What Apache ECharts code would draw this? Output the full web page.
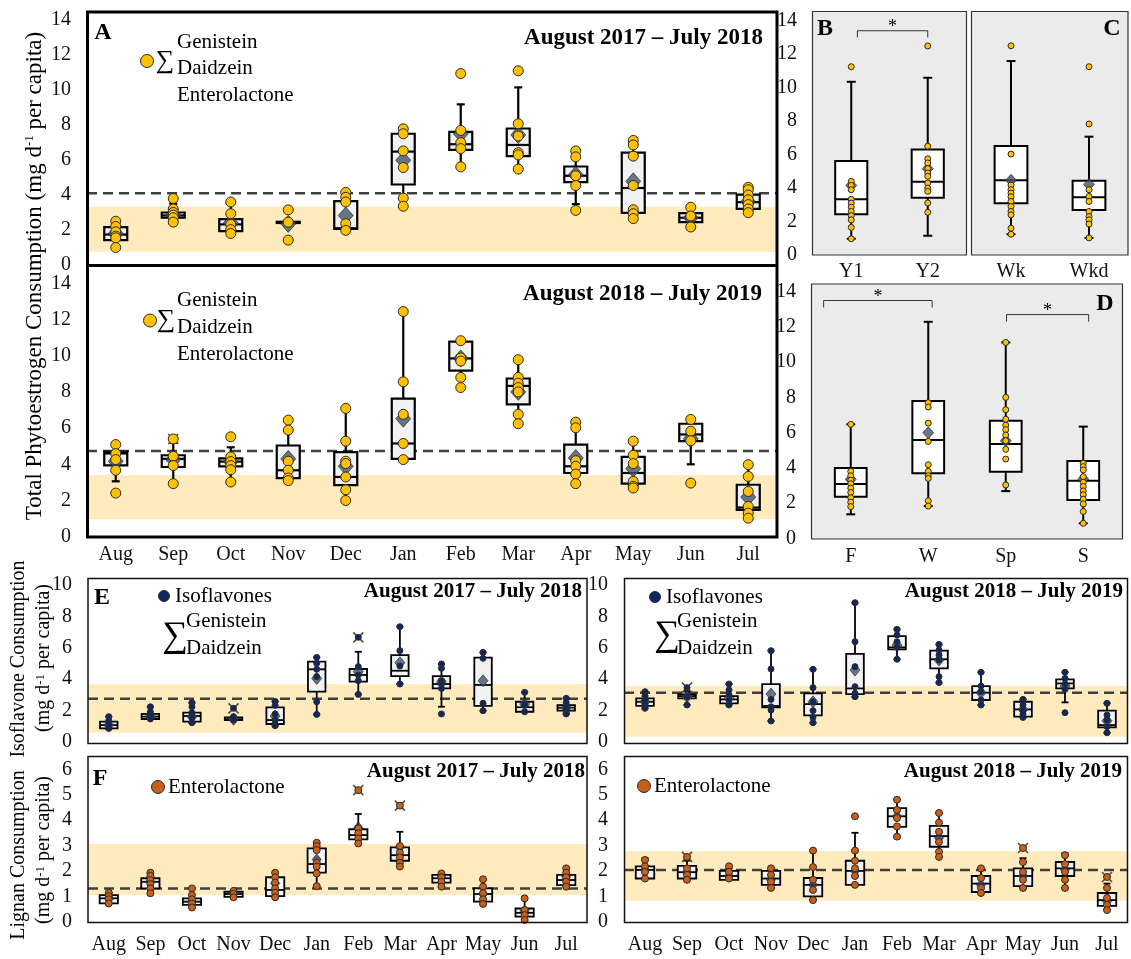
<!DOCTYPE html>
<html>
<head>
<meta charset="utf-8">
<script src="https://cdn.jsdelivr.net/npm/echarts/dist/echarts.min.js"></script>
<style>
html, body { margin: 0; padding: 0; background: #fff; }
#chart { width: 1131px; height: 959px; }
</style>
</head>
<body>
<div id="chart"></div>
<script>
// ---------- data ----------
const months = ['Aug', 'Sep', 'Oct', 'Nov', 'Dec', 'Jan', 'Feb', 'Mar', 'Apr', 'May', 'Jun', 'Jul'];
const yearCats = ['Y1', 'Y2'];
const weekCats = ['Wk', 'Wkd'];
const seasonCats = ['F', 'W', 'Sp', 'S'];

const totalTicks = [0, 14, 2];   // min, max, step
const isoTicks = [0, 10, 2];
const lignanTicks = [0, 6, 1];

// box rows: [min, Q1, median, Q3, max]
const totalY1Box = [[1.0,1.42,1.74,2.17,2.5],[2.45,2.7,2.83,3.0,3.5],[1.8,1.94,2.32,2.62,3.6],[2.4,2.4,2.43,2.47,2.47],[1.98,2.06,2.1,3.65,4.15],[3.36,4.6,6.48,7.5,7.78],[5.61,6.58,6.9,7.61,9.18],[5.48,6.22,6.86,7.8,10.15],[3.48,4.74,5.1,5.63,6.52],[2.65,2.98,4.4,6.42,7.12],[2.17,2.45,2.7,2.96,3.3],[2.99,3.21,3.59,4.02,4.44]];
const totalY1Mean = [1.8,2.85,2.4,2.35,2.83,5.99,7.5,7.43,5.16,4.78,2.7,3.62];
const totalY1Pts = [[2.5,2.2,1.9,1.65,1.55,1.0],[3.8,3.2,3.0,2.85,2.7,2.45],[3.6,2.93,2.32,2.02,1.8],[3.15,2.45,1.42],[4.15,3.87,3.6,2.36,1.98],[7.78,7.5,6.52,5.57,3.82,3.36],[10.94,7.69,6.99,6.65,5.61],[11.1,8.07,7.37,6.42,6.29,5.48],[6.52,6.18,5.1,4.54,3.12],[7.12,6.86,6.22,4.54,3.16,2.93,2.65],[3.3,2.8,2.17],[4.44,4.3,4.0,3.73,3.45,3.2,2.99]];
const totalY1Out = [];
const totalY1Band = [0.76, 3.33];
const totalY1Ref = 4.1;

const totalY2Box = [[3.06,3.94,4.6,4.69,5.09],[2.93,3.85,4.3,4.5,5.2],[3.02,3.89,4.15,4.33,4.94],[3.1,3.24,3.67,5.04,6.44],[2.0,2.85,3.3,4.67,7.09],[4.26,4.3,5.15,7.63,12.44],[8.24,9.17,9.85,10.78,10.83],[6.24,7.31,8.33,8.74,9.78],[2.93,3.52,3.89,5.09,6.33],[2.69,2.93,3.52,4.41,5.28],[4.0,5.28,5.65,6.24,6.48],[1.02,1.48,1.61,2.87,3.98]];
const totalY2Mean = [4.17,4.26,4.15,4.3,3.89,6.52,9.85,8.0,4.35,3.76,5.41,2.19];
const totalY2Pts = [[5.09,4.59,4.26,3.67,2.41],[5.4,4.44,3.93,2.93],[5.52,4.41,4.15,3.93,3.7,3.02],[6.44,5.89,4.17,3.67,3.24,3.1],[7.09,5.28,4.17,4.04,3.3,2.59,2.0],[12.44,8.56,6.76,5.15,4.26],[10.83,9.87,9.7,8.8,8.24],[9.78,8.8,8.48,8.24,8.0,6.76,6.24],[6.33,6.02,4.2,3.89,3.46,2.93],[5.28,4.5,4.04,3.06,2.78,2.69],[6.48,5.83,5.3,2.96],[3.98,3.33,2.5,1.67,1.3,1.02]];
const totalY2Out = [[1, 5.4]];
const totalY2Band = [0.96, 3.41];
const totalY2Ref = 4.73;

const yearBox = [[0.97,2.43,3.33,5.62,10.35],[1.15,3.42,4.38,6.31,10.59]];
const yearMean = [4.16,5.16];
const yearPts = [[11.25,4.4,4.16,3.9,3.33,3.1,2.86,2.6,2.35,2.1,1.65,0.97],[12.49,6.5,5.75,5.5,5.16,4.9,4.7,4.3,4.0,3.8,3.11,2.55]];
const yearSig = [[0.08, 1.0, 13.4, 13.0]];   // [from, to, bracket top, tick end]

const weekBox = [[1.24,3.09,4.46,6.51,11.59],[1.02,2.69,3.45,4.44,7.07]];
const weekMean = [4.46,4.22];
const weekPts = [[12.5,6.03,4.18,3.9,3.7,3.48,3.2,2.9,2.6,2.4,1.6,1.24],[11.25,7.83,3.9,3.5,3.2,2.6,2.3,2.1,1.85,1.02]];

const seasonBox = [[1.36,2.36,3.08,3.99,6.47],[1.83,3.69,5.58,7.79,12.29],[2.68,3.78,5.35,6.68,11.12],[0.85,2.17,3.27,4.39,6.34]];
const seasonMean = [3.35,5.99,5.54,3.36];
const seasonPts = [[6.47,3.8,3.55,3.3,3.1,2.85,2.6,2.3,2.05,1.8],[7.7,7.45,6.54,5.5,4.18,3.8,3.55,3.4,2.13,1.83],[11.12,8.0,7.3,6.76,6.42,6.17,5.86,5.54,5.05,4.5,3.03],[4.26,4.07,3.88,3.5,3.18,2.94,2.69,2.47,2.22,1.95,1.52,0.85]];
const seasonSig = [[-0.35, 1.05, 13.5, 13.1], [2.01, 3.07, 12.7, 12.3]];

const isoY1Box = [[0.81,0.85,1.06,1.28,1.6],[1.43,1.45,1.6,1.77,2.23],[1.21,1.28,1.64,1.85,2.49],[1.38,1.38,1.43,1.55,1.6],[1.02,1.13,1.38,2.19,2.57],[1.74,3.19,4.62,5.11,5.38],[3.02,3.83,4.26,4.64,5.74],[3.68,4.19,4.53,5.53,7.34],[2.23,3.4,3.68,4.19,4.96],[1.98,2.28,3.62,5.36,5.7],[1.91,1.91,2.2,2.55,3.15],[1.77,1.98,2.17,2.34,2.77]];
const isoY1Mean = [1.06,1.64,1.6,1.43,1.64,4.04,4.47,5.04,3.83,3.89,2.4,2.17];
const isoY1Pts = [[1.6,1.34,1.06,0.85],[2.23,1.91,1.64,1.45],[2.49,2.23,1.85,1.55,1.21],[2.13,1.6,1.38],[2.57,2.32,1.77,1.38,1.11,1.02],[5.38,5.0,4.62,4.15,2.55,1.74],[6.66,4.79,4.26,3.89,3.02],[7.34,5.81,4.83,3.68],[4.96,4.68,3.89,3.68,3.4,1.77],[5.7,5.32,2.45,1.98],[3.15,2.38,1.91],[2.77,2.49,2.17,1.85,1.77]];
const isoY1Out = [[3, 2.13], [6, 6.66]];
const isoY1Band = [0.57, 3.66];
const isoY1Ref = 2.74;

const isoY2Box = [[2.13,2.28,2.55,2.77,3.19],[2.34,2.77,2.91,3.02,3.2],[2.34,2.45,2.7,2.91,3.68],[1.32,2.19,2.28,3.68,5.81],[1.21,1.68,2.4,3.09,4.62],[2.87,3.04,3.4,5.6,8.87],[5.26,5.89,6.02,6.74,7.17],[3.77,4.68,5.26,5.81,6.21],[2.34,2.66,3.13,3.55,4.43],[1.55,1.6,2.06,2.55,2.7],[2.51,3.4,3.72,3.98,4.43],[0.57,0.91,1.06,1.98,2.45]];
const isoY2Mean = [2.55,2.87,2.77,3.04,2.55,4.57,6.17,5.21,3.13,2.06,3.55,1.34];
const isoY2Pts = [[3.19,2.91,2.66,2.4,2.13],[3.45,2.87,2.34],[3.68,3.3,2.98,2.66,2.34],[5.81,4.64,2.7,2.23,2.02,1.32],[4.62,3.45,2.55,1.98,1.55,1.21],[8.87,6.38,4.79,3.51,3.09,2.87],[7.17,6.81,6.38,6.02,5.26],[6.21,5.85,5.53,5.21,4.15,3.77],[4.43,3.55,3.19,2.66,2.34],[2.7,2.34,2.02,1.77,1.55],[4.43,4.04,3.68,3.34,1.85],[2.45,1.7,1.38,0.96,0.57]];
const isoY2Out = [[1, 3.45]];
const isoY2Band = [0.32, 3.55];
const isoY2Ref = 3.13;

const lignanY1Box = [[0.72,0.72,0.92,1.05,1.14],[1.12,1.31,1.57,1.71,1.93],[0.56,0.66,0.79,0.92,1.31],[0.96,0.98,1.09,1.18,1.21],[0.96,1.01,1.25,1.75,1.93],[1.4,1.93,2.27,2.89,3.11],[3.08,3.24,3.41,3.64,4.24],[2.17,2.4,2.62,2.93,3.54],[1.38,1.54,1.71,1.84,1.9],[0.7,0.79,1.09,1.31,1.67],[0.07,0.2,0.35,0.52,0.92],[1.38,1.44,1.64,1.84,2.1]];
const lignanY1Mean = [0.92,1.57,0.79,1.09,1.51,2.45,3.71,2.93,1.75,1.09,0.43,1.77];
const lignanY1Pts = [[1.14,1.01,0.88,0.72],[1.93,1.8,1.64,1.48,1.31,1.12],[1.31,1.05,0.88,0.72,0.56],[1.21,1.09,0.96],[1.93,1.75,1.54,1.31,1.14,0.96],[3.11,2.98,2.82,2.32,2.17,1.9,1.4],[5.18,3.67,3.48,3.28,3.08],[4.57,2.98,2.72,2.53,2.32,2.17],[1.9,1.75,1.57,1.38],[1.67,1.38,1.12,0.88,0.7],[0.92,0.46,0.26,0.07],[2.1,1.93,1.75,1.57,1.38]];
const lignanY1Out = [[6, 5.18], [7, 4.57]];
const lignanY1Band = [1.05, 3.06];
const lignanY1Ref = 1.31;

const lignanY2Box = [[1.7,1.7,2.04,2.18,2.5],[1.65,1.7,1.95,2.2,2.4],[1.65,1.65,1.8,2.0,2.1],[1.33,1.45,1.7,2.0,2.1],[0.85,1.0,1.45,1.72,2.8],[1.45,1.45,2.0,2.4,3.5],[3.35,3.73,4.15,4.47,4.8],[2.55,2.95,3.37,3.77,4.28],[1.13,1.17,1.5,1.8,2.1],[1.33,1.4,1.8,2.1,2.5],[1.33,1.8,2.1,2.35,2.7],[0.46,0.62,0.85,1.13,1.5]];
const lignanY2Mean = [2.04,1.95,1.8,1.65,1.45,2.0,4.15,3.3,1.45,1.8,2.05,0.8];
const lignanY2Pts = [[2.43,2.18,1.96,1.7],[2.55,2.1,1.84,1.65],[2.18,1.96,1.7],[2.1,1.84,1.57,1.33],[2.8,2.15,1.65,1.25,0.85],[4.15,2.8,2.4,2.1,1.8,1.45],[4.8,4.4,4.08,3.75,3.35],[4.28,3.9,3.54,3.14,2.75,2.55],[2.1,1.72,1.33,1.13],[2.9,2.35,1.96,1.65,1.33],[2.62,2.27,1.96,1.65,1.33],[1.76,1.33,0.94,0.66,0.46]];
const lignanY2Out = [[1, 2.55], [9, 2.9], [11, 1.76]];
const lignanY2Band = [0.82, 2.78];
const lignanY2Ref = 2.04;

// ---------- styling ----------
const SERIF = '"Liberation Serif", "Times New Roman", serif';
const GOLD = '#FFC000', NAVY = '#0F2862', ORANGE = '#C8601A';
const SLATE = '#44546A', DEEPBLUE = '#1F3A78';
const BAND = '#FFEBBE', PALE = '#F2F2F2', GREYBG = '#EBEBEB';

const panels = [
  { grid: {left: 87, top: 20, width: 690, height: 245}, cats: months, ticks: totalTicks, xLab: false, yLab: true,
    box: totalY1Box, mean: totalY1Mean, pts: totalY1Pts, out: totalY1Out, band: totalY1Band, ref: totalY1Ref,
    color: GOLD, dia: SLATE, fill: PALE, frac: 0.4, cap: 8, lw: 2.2, pt: 10, ms: [15, 17] },
  { grid: {left: 87, top: 283.3, width: 690, height: 253.4}, cats: months, ticks: totalTicks, xLab: true, xMargin: 8, yLab: true,
    box: totalY2Box, mean: totalY2Mean, pts: totalY2Pts, out: totalY2Out, band: totalY2Band, ref: totalY2Ref,
    color: GOLD, dia: SLATE, fill: PALE, frac: 0.4, cap: 8, lw: 2.2, pt: 10, ms: [15, 17] },
  { grid: {left: 813, top: 20.7, width: 153, height: 234.3}, cats: yearCats, ticks: totalTicks, xLab: true, xMargin: 7, yLab: true,
    box: yearBox, mean: yearMean, pts: yearPts, out: [], sig: yearSig,
    color: GOLD, dia: SLATE, fill: '#fff', frac: 0.42, cap: 9, lw: 2, pt: 6, ms: [11, 12] },
  { grid: {left: 972, top: 20.7, width: 156, height: 234.3}, cats: weekCats, ticks: totalTicks, xLab: true, xMargin: 7, yLab: false,
    box: weekBox, mean: weekMean, pts: weekPts, out: [],
    color: GOLD, dia: SLATE, fill: '#fff', frac: 0.42, cap: 9, lw: 2, pt: 6, ms: [11, 12] },
  { grid: {left: 812, top: 291.7, width: 310, height: 246.6}, cats: seasonCats, ticks: totalTicks, xLab: true, xMargin: 8, yLab: true,
    box: seasonBox, mean: seasonMean, pts: seasonPts, out: [], sig: seasonSig,
    color: GOLD, dia: SLATE, fill: '#fff', frac: 0.41, cap: 9, lw: 2, pt: 6, ms: [11, 12] },
  { grid: {left: 88, top: 585, width: 499, height: 156.7}, cats: months, ticks: isoTicks, xLab: false, yLab: true,
    box: isoY1Box, mean: isoY1Mean, pts: isoY1Pts, out: isoY1Out, band: isoY1Band, ref: isoY1Ref,
    color: NAVY, dia: SLATE, fill: PALE, frac: 0.42, cap: 7, lw: 1.8, pt: 6, ms: [10, 12] },
  { grid: {left: 624, top: 585, width: 504, height: 156.7}, cats: months, ticks: isoTicks, xLab: false, yLab: true,
    box: isoY2Box, mean: isoY2Mean, pts: isoY2Pts, out: isoY2Out, band: isoY2Band, ref: isoY2Ref,
    color: NAVY, dia: SLATE, fill: PALE, frac: 0.42, cap: 7, lw: 1.8, pt: 6, ms: [10, 12] },
  { grid: {left: 88, top: 769.3, width: 499, height: 152.4}, cats: months, ticks: lignanTicks, xLab: true, xMargin: 13, yLab: true,
    box: lignanY1Box, mean: lignanY1Mean, pts: lignanY1Pts, out: lignanY1Out, band: lignanY1Band, ref: lignanY1Ref,
    color: ORANGE, dia: DEEPBLUE, fill: PALE, frac: 0.44, cap: 7, lw: 1.8, pt: 7, ms: [9, 11] },
  { grid: {left: 624, top: 769.3, width: 504, height: 152.4}, cats: months, ticks: lignanTicks, xLab: true, xMargin: 13, yLab: true,
    box: lignanY2Box, mean: lignanY2Mean, pts: lignanY2Pts, out: lignanY2Out, band: lignanY2Band, ref: lignanY2Ref,
    color: ORANGE, dia: DEEPBLUE, fill: PALE, frac: 0.44, cap: 7, lw: 1.8, pt: 7, ms: [9, 11] }
];

// ---------- render helpers ----------
function seg(x1, y1, x2, y2, color, w) {
  return { type: 'line', shape: { x1, y1, x2, y2 }, style: { stroke: color, lineWidth: w } };
}

function boxRenderer(p) {
  return function (params, api) {
    const k = api.value(0);
    const x = api.coord([k, 0])[0];
    const w = api.size([1, 0])[0] * p.frac;
    const py = i => api.coord([k, api.value(i)])[1];
    const yMin = py(1), yQ1 = py(2), yMed = py(3), yQ3 = py(4), yMax = py(5);
    const kids = [];
    if (yQ3 - yMax > 0.5) {
      kids.push(seg(x, yMax, x, yQ3, '#000', p.lw));
      kids.push(seg(x - p.cap / 2, yMax, x + p.cap / 2, yMax, '#000', p.lw));
    }
    if (yMin - yQ1 > 0.5) {
      kids.push(seg(x, yQ1, x, yMin, '#000', p.lw));
      kids.push(seg(x - p.cap / 2, yMin, x + p.cap / 2, yMin, '#000', p.lw));
    }
    kids.push({ type: 'rect', shape: { x: x - w / 2, y: yQ3, width: w, height: Math.max(yQ1 - yQ3, 0.5) },
      style: { fill: p.fill, stroke: '#000', lineWidth: p.lw } });
    kids.push(seg(x - w / 2, yMed, x + w / 2, yMed, '#000', p.lw));
    return { type: 'group', children: kids };
  };
}

function bandRenderer(params, api) {
  const cs = params.coordSys;
  const lo = api.coord([0, api.value(1)])[1];
  const hi = api.coord([0, api.value(2)])[1];
  return { type: 'rect', shape: { x: cs.x, y: hi, width: cs.width, height: lo - hi }, style: { fill: BAND } };
}

function refRenderer(params, api) {
  const cs = params.coordSys;
  const y = api.coord([0, api.value(1)])[1];
  return { type: 'line', shape: { x1: cs.x, y1: y, x2: cs.x + cs.width, y2: y },
    style: { stroke: '#404040', lineWidth: 2.5, lineDash: [10, 6] } };
}

function crossRenderer(params, api) {
  const c = api.coord([api.value(0), api.value(1)]);
  const s = 5;
  return { type: 'group', children: [
    seg(c[0] - s, c[1] - s, c[0] + s, c[1] + s, '#5a4a3a', 1.6),
    seg(c[0] - s, c[1] + s, c[0] + s, c[1] - s, '#5a4a3a', 1.6)
  ] };
}

function sigRenderer(params, api) {
  const bw = api.size([1, 0])[0];
  const xAt = v => { const f = Math.floor(v); return api.coord([f, 0])[0] + (v - f) * bw; };
  const x1 = xAt(api.value(0)), x2 = xAt(api.value(1));
  const yTop = api.coord([0, api.value(2)])[1];
  const yEnd = api.coord([0, api.value(3)])[1];
  return { type: 'group', children: [
    { type: 'polyline', shape: { points: [[x1, yEnd], [x1, yTop], [x2, yTop], [x2, yEnd]] },
      style: { stroke: '#333', lineWidth: 1, fill: null } },
    { type: 'text', x: (x1 + x2) / 2, y: yTop - 3,
      style: { text: '*', font: '18px ' + SERIF, fill: '#000', align: 'center', verticalAlign: 'middle' } }
  ] };
}

// ---------- assemble option ----------
const grids = [], xAxes = [], yAxes = [], series = [];
panels.forEach((p, i) => {
  grids.push(Object.assign({ containLabel: false }, p.grid));
  xAxes.push({
    type: 'category', gridIndex: i, data: p.cats, boundaryGap: true,
    axisLine: { show: false }, axisTick: { show: false }, splitLine: { show: false },
    axisLabel: { show: p.xLab, interval: 0, margin: p.xMargin || 8, fontFamily: SERIF, fontSize: 20, color: '#111' }
  });
  yAxes.push({
    type: 'value', gridIndex: i, min: p.ticks[0], max: p.ticks[1], interval: p.ticks[2],
    axisLine: { show: false }, axisTick: { show: false }, splitLine: { show: false },
    axisLabel: { show: p.yLab, margin: 16, fontFamily: SERIF, fontSize: 20, color: '#111' }
  });
  const ax = { xAxisIndex: i, yAxisIndex: i };
  if (p.band) {
    series.push(Object.assign({ type: 'custom', z: 1, silent: true, renderItem: bandRenderer,
      data: [[0, p.band[0], p.band[1]]] }, ax));
    series.push(Object.assign({ type: 'custom', z: 1, silent: true, renderItem: refRenderer,
      data: [[0, p.ref]] }, ax));
  }
  series.push(Object.assign({ type: 'custom', z: 2, silent: true, renderItem: boxRenderer(p),
    data: p.box.map((b, k) => [k].concat(b)) }, ax));
  series.push(Object.assign({ type: 'scatter', z: 3, silent: true, symbol: 'diamond', symbolSize: p.ms,
    itemStyle: { color: p.dia, borderColor: '#222', borderWidth: 0.8 },
    data: p.mean.map((m, k) => [k, m]) }, ax));
  if (p.out.length) {
    series.push(Object.assign({ type: 'custom', z: 3, silent: true, renderItem: crossRenderer, data: p.out }, ax));
  }
  const dots = [];
  p.pts.forEach((arr, k) => arr.forEach(v => dots.push([k, v])));
  series.push(Object.assign({ type: 'scatter', z: 4, silent: true, symbol: 'circle', symbolSize: p.pt,
    itemStyle: { color: p.color, borderColor: '#2b2b2b', borderWidth: 1, opacity: 1 },
    data: dots }, ax));
  if (p.sig) {
    series.push(Object.assign({ type: 'custom', z: 5, silent: true, renderItem: sigRenderer, data: p.sig }, ax));
  }
});

// ---------- frames, letters, titles, keys ----------
function txt(x, y, text, size, opts) {
  opts = opts || {};
  return { type: 'text', x, y, z: 50, rotation: opts.rot || 0,
    style: { text, font: (opts.bold ? 'bold ' : '') + size + 'px ' + SERIF, fill: '#000',
      align: opts.align || 'left', verticalAlign: 'middle', rich: opts.rich } };
}
function frame(x, y, w, h, lw, fill, stroke, z) {
  return { type: 'rect', z: z, shape: { x, y, width: w, height: h },
    style: { fill: fill || 'none', stroke: stroke || '#000', lineWidth: lw } };
}
function dot(cx, cy, r, color) {
  return { type: 'circle', z: 50, shape: { cx, cy, r }, style: { fill: color, stroke: '#2b2b2b', lineWidth: 1 } };
}
const supRich = { s: { fontSize: 13, fontFamily: SERIF, fill: '#000', verticalAlign: 'top' } };

const gfx = [
  // panel backgrounds
  frame(812.5, 11.5, 154, 243.5, 1.2, GREYBG, '#333', -10),
  frame(971.5, 11.5, 156.5, 243.5, 1.2, GREYBG, '#333', -10),
  frame(811.5, 284, 311, 255, 1.2, GREYBG, '#333', -10),
  // outlines
  frame(87.5, 12, 689.5, 525, 3, null, '#000', 60),
  { type: 'line', z: 60, shape: { x1: 87.5, y1: 265.5, x2: 777, y2: 265.5 }, style: { stroke: '#000', lineWidth: 3 } },
  frame(88, 578.5, 499, 165, 1.5, null, '#111', 60),
  frame(88, 756.5, 499, 166, 1.5, null, '#111', 60),
  frame(624.5, 578.5, 503, 165, 1.5, null, '#111', 60),
  frame(624.5, 756.5, 503, 166, 1.5, null, '#111', 60),
  // panel letters
  txt(103, 33, 'A', 24, { bold: true, align: 'center' }),
  txt(825, 29, 'B', 24, { bold: true, align: 'center' }),
  txt(1112, 29, 'C', 24, { bold: true, align: 'center' }),
  txt(1105, 304, 'D', 24, { bold: true, align: 'center' }),
  txt(102, 598, 'E', 24, { bold: true, align: 'center' }),
  txt(100, 779, 'F', 24, { bold: true, align: 'center' }),
  // period titles
  txt(763, 38, 'August 2017 – July 2018', 23, { bold: true, align: 'right' }),
  txt(762, 294, 'August 2018 – July 2019', 23, { bold: true, align: 'right' }),
  txt(582, 592, 'August 2017 – July 2018', 21, { bold: true, align: 'right' }),
  txt(1123, 592, 'August 2018 – July 2019', 21, { bold: true, align: 'right' }),
  txt(585, 772, 'August 2017 – July 2018', 21, { bold: true, align: 'right' }),
  txt(1122, 772, 'August 2018 – July 2019', 21, { bold: true, align: 'right' }),
  // total phytoestrogen keys
  dot(147, 61, 6.5, GOLD), txt(165, 61, '∑', 26, { align: 'center' }),
  txt(177, 42, 'Genistein', 21), txt(177, 68.5, 'Daidzein', 21), txt(177, 95, 'Enterolactone', 21),
  dot(150, 320.5, 6.5, GOLD), txt(166, 320.5, '∑', 26, { align: 'center' }),
  txt(177, 300.5, 'Genistein', 21), txt(177, 327.5, 'Daidzein', 21), txt(177, 354, 'Enterolactone', 21),
  // isoflavone keys
  dot(164, 596, 5.5, NAVY), txt(175, 596, 'Isoflavones', 21),
  txt(175, 637, '∑', 36, { align: 'center' }), txt(186, 621.5, 'Genistein', 21), txt(186, 648, 'Daidzein', 21),
  dot(655, 597, 5.5, NAVY), txt(666, 597, 'Isoflavones', 21),
  txt(667, 636, '∑', 36, { align: 'center' }), txt(677, 621.5, 'Genistein', 21), txt(677, 648, 'Daidzein', 21),
  // lignan keys
  dot(158, 787, 6.5, ORANGE), txt(168, 787, 'Enterolactone', 21),
  dot(644, 786, 6.5, ORANGE), txt(654, 786, 'Enterolactone', 21),
  // axis titles
  txt(35, 276, 'Total Phytoestrogen Consumption (mg d{s|-1} per capita)', 23, { align: 'center', rot: Math.PI / 2, rich: supRich }),
  txt(19, 659, 'Isoflavone Consumption', 20, { align: 'center', rot: Math.PI / 2 }),
  txt(44, 658, '(mg d{s|-1} per capita)', 20, { align: 'center', rot: Math.PI / 2, rich: supRich }),
  txt(19, 855, 'Lignan Consumption', 20, { align: 'center', rot: Math.PI / 2 }),
  txt(44, 850, '(mg d{s|-1} per capita)', 20, { align: 'center', rot: Math.PI / 2, rich: supRich })
];

const chart = echarts.init(document.getElementById('chart'), null, { renderer: 'canvas' });
chart.setOption({
  backgroundColor: '#fff',
  animation: false,
  grid: grids,
  xAxis: xAxes,
  yAxis: yAxes,
  series: series,
  graphic: { elements: gfx }
});
</script>
</body>
</html>
